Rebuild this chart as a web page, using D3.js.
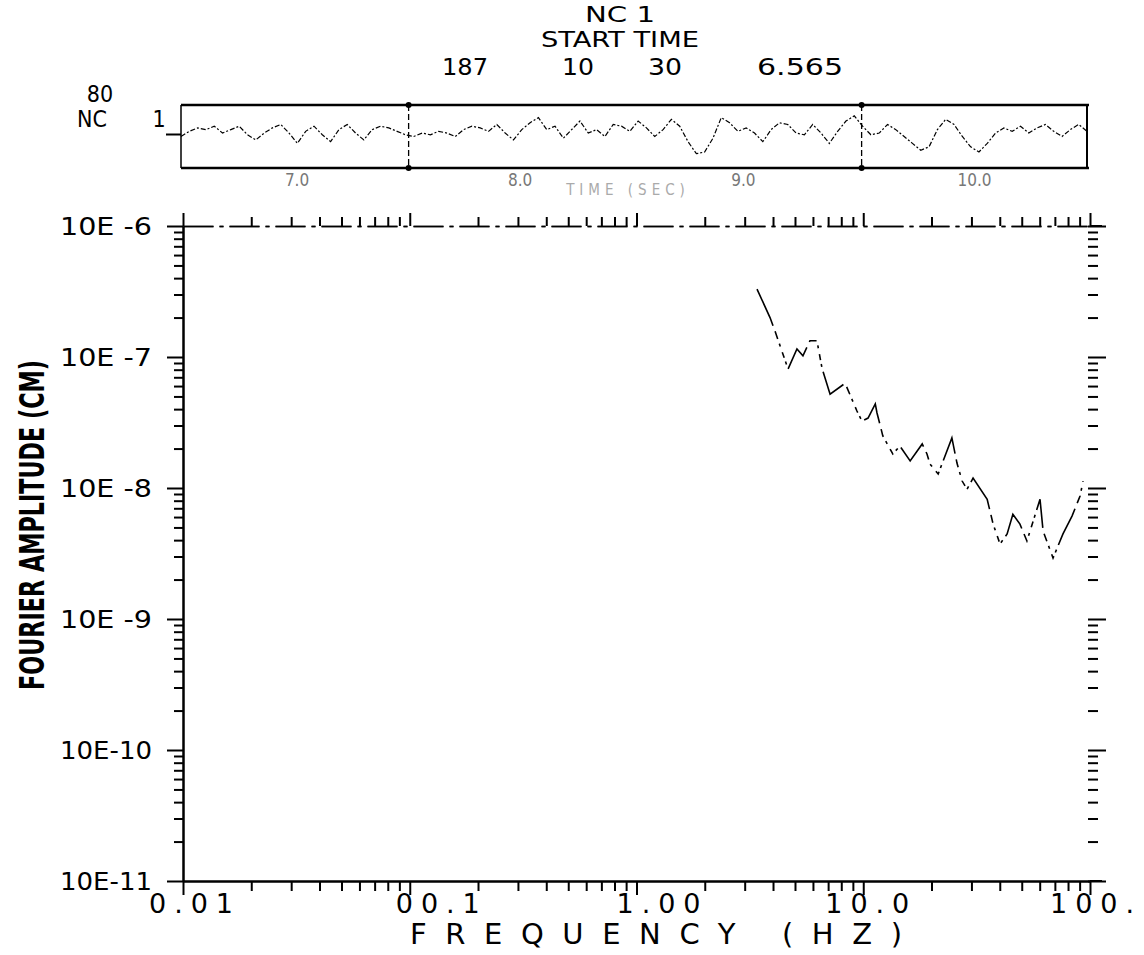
<!DOCTYPE html>
<meta charset="utf-8">
<head>
  <style>
    body { margin: 0; background: #fff; }
    text { fill: #000; }
  </style>
  <script src="https://cdn.jsdelivr.net/npm/d3@7"></script>
</head>
<body>
<script>
  // ---- data ----
  const headerLines = ["NC  1", "START  TIME"];
  const startTime = ["187", "10", "30", "6.565"];
  const yTickValues = [1e-6, 1e-7, 1e-8, 1e-9, 1e-10, 1e-11];
  const yTickLabels = ["10E  -6", "10E  -7", "10E  -8", "10E  -9", "10E-10", "10E-11"];
  const xTickValues = [0.01, 0.1, 1, 10, 100];
  const xTickLabels = ["0.01", "00.1", "1.00", "10.0", "100."];
  const timeTicks = [7, 8, 9, 10];
  const timeTickLabels = ["7.0", "8.0", "9.0", "10.0"];
  const dividers = [7.5, 9.53];

  // fourier spectrum (Hz, cm)
  const freq = [3.40, 3.88, 4.08, 4.66, 5.10, 5.42, 5.82, 6.25, 6.58, 7.14, 8.32, 9.38, 9.87, 10.5,
    11.3, 11.5, 12.2, 13.5, 14.5, 16.1, 18.2, 19.1, 19.7, 21.4, 24.6, 25.9, 27.3, 28.7, 30.5, 35.2,
    37.4, 40.1, 43.1, 45.7, 49.1, 52.7, 60.2, 62.1, 68.7, 76.0, 83.3, 90.4, 93.2];
  const amp = [3.3e-7, 2.0e-7, 1.58e-7, 8.1e-8, 1.15e-7, 1.02e-7, 1.33e-7, 1.33e-7, 8.2e-8, 5.2e-8,
    6.3e-8, 3.87e-8, 3.24e-8, 3.42e-8, 4.38e-8, 3.74e-8, 2.5e-8, 1.82e-8, 2.09e-8, 1.61e-8, 2.17e-8,
    1.82e-8, 1.52e-8, 1.28e-8, 2.41e-8, 1.55e-8, 1.13e-8, 9.8e-9, 1.19e-8, 8.2e-9, 5.3e-9, 3.74e-9,
    4.46e-9, 6.3e-9, 5.3e-9, 3.94e-9, 8.2e-9, 4.7e-9, 2.92e-9, 4.46e-9, 6.1e-9, 8.7e-9, 1.13e-8];

  // time trace in the top strip (sec 6.48 .. 10.54)
  const trace = [0, 15, 25, 20, 30, 10, 20, 30, 5, -10, 10, 25, 35, 10, -20, 15, 30, 5, -15, 20, 35, 10,
    -10, 20, 30, 25, 15, 5, 0,
    10, 5, 15, 10, 0, 20, 30, 25, 15, 35, 10, -10, 20, 40, 55, 20, 30, -5, 20, 45, 10, 20, 0, 35, 30,
    15, 45, 25, 0, 20, 50, 30, -15, -50, -45, -5, 55, 40, 15, 25, 10, -15, 20, 40, 35, 10, 5, 35, 10,
    -20, 15, 45, 60, 30, 5,
    10, 35, 20, 0, -20, -40, -30, 20, 50, 35, 0, -30, -45, -20, 10, 25, 15, 30, 10, 25, 35, 15, 0, 20,
    35, 15];
  const traceStart = 6.48, traceEnd = 10.54;

  const W = 1144, H = 955;
  const svg = d3.select("body").append("svg")
    .attr("width", W).attr("height", H)
    .style("font-family", "'Liberation Sans Narrow', 'DejaVu Sans Condensed', 'Liberation Sans', sans-serif");

  // ---- header ----
  svg.selectAll(".hdr").data(headerLines).enter().append("text")
    .attr("x", 620).attr("y", (d, i) => 22 + i * 25)
    .attr("text-anchor", "middle").attr("font-size", 21.5)
    .attr("textLength", (d, i) => i == 0 ? 70 : 158).attr("lengthAdjust", "spacingAndGlyphs")
    .text(d => d);
  const stX = [465, 578, 665, 800];
  svg.selectAll(".st").data(startTime).enter().append("text")
    .attr("x", (d, i) => stX[i]).attr("y", 75)
    .attr("text-anchor", "middle").attr("font-size", 22.5)
    .attr("textLength", (d, i) => [46, 32, 34, 86][i]).attr("lengthAdjust", "spacingAndGlyphs")
    .text(d => d);

  // ---- top strip ----
  const sLeft = 181, sRight = 1087, sTop = 105, sBot = 168;
  const tx = d3.scaleLinear().domain([traceStart, traceEnd]).range([sLeft, sRight]);
  const ty = d3.scaleLinear().domain([-80, 80]).range([sBot - 4, sTop + 4]);
  const strip = svg.append("g");
  strip.append("line").attr("x1", sLeft).attr("x2", sRight + 2).attr("y1", sTop).attr("y2", sTop)
    .attr("stroke", "#000").attr("stroke-width", 2.5);
  strip.append("line").attr("x1", sLeft).attr("x2", sRight + 2).attr("y1", sBot).attr("y2", sBot)
    .attr("stroke", "#000").attr("stroke-width", 2.5);
  strip.append("line").attr("x1", sLeft).attr("x2", sLeft).attr("y1", sTop).attr("y2", sBot)
    .attr("stroke", "#000").attr("stroke-width", 1.5);
  strip.append("line").attr("x1", sRight).attr("x2", sRight).attr("y1", sTop).attr("y2", sBot)
    .attr("stroke", "#000").attr("stroke-width", 2);
  dividers.forEach(t => {
    strip.append("line").attr("x1", tx(t)).attr("x2", tx(t)).attr("y1", sTop).attr("y2", sBot)
      .attr("stroke", "#000").attr("stroke-width", 1.3).attr("stroke-dasharray", "6 3");
    strip.append("circle").attr("cx", tx(t)).attr("cy", sTop).attr("r", 3);
    strip.append("circle").attr("cx", tx(t)).attr("cy", sBot).attr("r", 3);
  });
  const dt = (traceEnd - traceStart) / (trace.length - 1);
  strip.append("path")
    .datum(trace)
    .attr("d", d3.line().x((d, i) => tx(traceStart + i * dt)).y(d => ty(d)))
    .attr("fill", "none").attr("stroke", "#000").attr("stroke-width", 1.2)
    .attr("stroke-dasharray", "5 2 2 2");
  strip.append("line").attr("x1", 166).attr("x2", sLeft).attr("y1", ty(0) - 2).attr("y2", ty(0) - 2)
    .attr("stroke", "#000").attr("stroke-width", 2);
  svg.append("text").attr("x", 100).attr("y", 102).attr("text-anchor", "middle")
    .attr("font-size", 23).text("80");
  svg.append("text").attr("x", 92).attr("y", 127).attr("text-anchor", "middle")
    .attr("font-size", 23).text("NC");
  svg.append("text").attr("x", 159).attr("y", 127).attr("text-anchor", "middle")
    .attr("font-size", 23).text("1");
  svg.selectAll(".tt").data(timeTicks).enter().append("text")
    .attr("x", d => tx(d) + (d == 10 ? 8 : 0)).attr("y", 186)
    .attr("text-anchor", "middle").attr("font-size", 17).style("fill", "#777")
    .text((d, i) => timeTickLabels[i]);
  svg.append("text").attr("x", 628).attr("y", 195).attr("text-anchor", "middle")
    .attr("font-size", 15).attr("letter-spacing", 5).style("fill", "#aaa")
    .text("TIME (SEC)");

  // ---- main log-log plot ----
  const pLeft = 183, pRight = 1090, pTop = 226, pBottom = 881;
  const x = d3.scaleLog().domain([0.01, 100]).range([pLeft, pRight]);
  const y = d3.scaleLog().domain([1e-11, 1e-6]).range([pBottom, pTop]);
  const xMinor = x.ticks().filter(v => !xTickValues.some(m => Math.abs(m - v) / m < 1e-6));
  const yMinor = y.ticks().filter(v => !yTickValues.some(m => Math.abs(m - v) / m < 1e-6));

  const ax = svg.append("g");
  // left
  ax.append("g").attr("transform", `translate(${pLeft},0)`)
    .call(d3.axisLeft(y).tickValues(yMinor).tickSize(9).tickFormat("").tickSizeOuter(0));
  ax.append("g").attr("transform", `translate(${pLeft},0)`)
    .call(d3.axisLeft(y).tickValues(yTickValues).tickSize(16).tickFormat("").tickSizeOuter(0));
  // right (ticks only)
  ax.append("g").attr("class", "noline").attr("transform", `translate(${pRight - 2},0)`)
    .call(d3.axisRight(y).tickValues(yMinor).tickSize(10).tickFormat("").tickSizeOuter(0));
  ax.append("g").attr("class", "noline").attr("transform", `translate(${pRight - 2},0)`)
    .call(d3.axisRight(y).tickValues(yTickValues).tickSize(18).tickFormat("").tickSizeOuter(0));
  // bottom
  ax.append("g").attr("transform", `translate(0,${pBottom})`)
    .call(d3.axisBottom(x).tickValues(xMinor).tickSize(10).tickFormat("").tickSizeOuter(0));
  ax.append("g").attr("transform", `translate(0,${pBottom})`)
    .call(d3.axisBottom(x).tickValues(xTickValues).tickSize(14).tickFormat("").tickSizeOuter(0));
  // top
  ax.append("g").attr("class", "topax").attr("transform", `translate(0,${pTop})`)
    .call(d3.axisTop(x).tickValues(xMinor).tickSize(9).tickFormat("").tickSizeOuter(0));
  ax.append("g").attr("class", "topax").attr("transform", `translate(0,${pTop})`)
    .call(d3.axisTop(x).tickValues(xTickValues).tickSize(13).tickFormat("").tickSizeOuter(0));

  ax.selectAll(".domain").attr("stroke", "#000").attr("stroke-width", 2);
  ax.selectAll(".tick line").attr("stroke", "#000").attr("stroke-width", 2);
  ax.selectAll(".noline .domain").remove();
  ax.selectAll(".topax .domain").attr("stroke-width", 1.6).attr("stroke-dasharray", "30 6 4 6");
  // extend bottom/top lines to right tick column
  ax.append("line").attr("x1", pRight).attr("x2", pRight + 12).attr("y1", pBottom).attr("y2", pBottom)
    .attr("stroke", "#000").attr("stroke-width", 2);
  ax.append("line").attr("x1", pRight).attr("x2", pRight + 12).attr("y1", pTop).attr("y2", pTop)
    .attr("stroke", "#000").attr("stroke-width", 2);

  // y tick labels
  svg.selectAll(".yl").data(yTickValues).enter().append("text")
    .attr("x", 152).attr("y", d => y(d) + 9)
    .attr("text-anchor", "end").attr("font-size", 24)
    .attr("textLength", 92).attr("lengthAdjust", "spacingAndGlyphs")
    .text((d, i) => yTickLabels[i]);

  // x tick labels
  const xLabelDx = [8, 28, 22, 4, 2];
  svg.selectAll(".xl").data(xTickValues).enter().append("text")
    .attr("x", (d, i) => x(d) + xLabelDx[i]).attr("y", 913)
    .attr("text-anchor", "middle")
    .style("font-family", "'DejaVu Sans', sans-serif")
    .attr("font-size", 27).attr("textLength", 84).attr("lengthAdjust", "spacing")
    .text((d, i) => xTickLabels[i]);

  svg.append("text").attr("x", 656).attr("y", 944).attr("text-anchor", "middle")
    .style("font-family", "'DejaVu Sans', sans-serif")
    .attr("font-size", 29).attr("textLength", 492).attr("lengthAdjust", "spacing")
    .text("FREQUENCY  (HZ)");

  svg.append("text")
    .attr("transform", "translate(44,525) rotate(-90)")
    .attr("text-anchor", "middle").attr("font-size", 34).attr("font-weight", "bold")
    .attr("textLength", 330).attr("lengthAdjust", "spacingAndGlyphs")
    .text("FOURIER AMPLITUDE  (CM)");

  // spectrum
  const pts = freq.map((f, i) => [f, amp[i]]);
  svg.append("path")
    .datum(pts)
    .attr("d", d3.line().x(d => x(d[0])).y(d => y(d[1])))
    .attr("fill", "none").attr("stroke", "#000").attr("stroke-width", 1.6)
    .attr("stroke-dasharray", "40 6 8 5 3 6 6 4 3 5");
</script>
</body>
</html>
